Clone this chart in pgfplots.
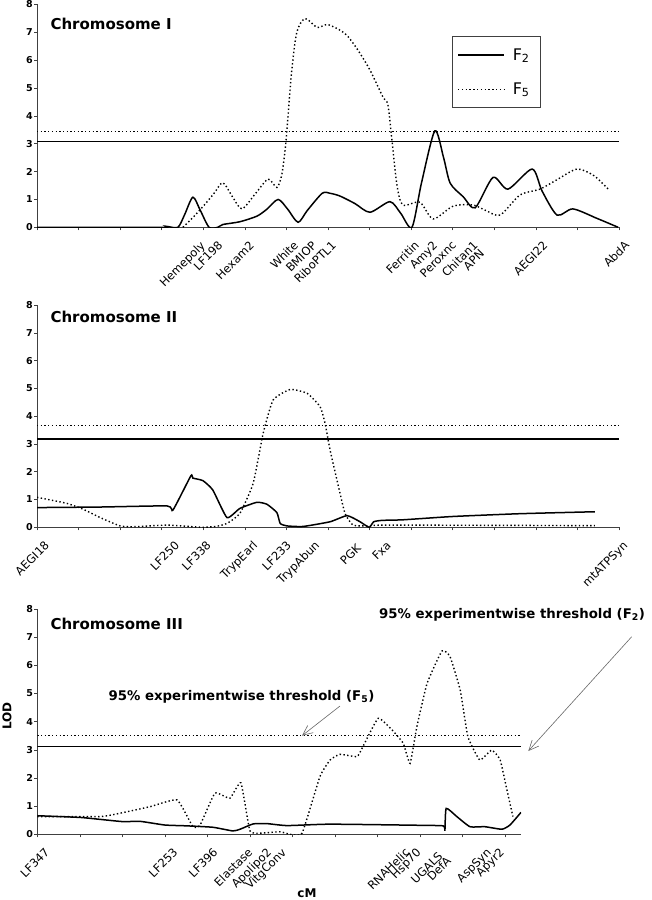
\documentclass[border=0pt]{standalone}
\usepackage{pgfplots}
\pgfplotsset{compat=1.18}
\usepackage{fontspec}
\setmainfont{DejaVu Sans}
\usetikzlibrary{arrows.meta}

\newcommand{\mk}[1]{\makebox[0pt][r]{\smash{#1}}}
\newcommand{\mks}[3]{\makebox[0pt][r]{\smash{\raisebox{-#1pt}{#3}}\hspace{-#2pt}}}

\pgfplotsset{
 chr/.style={
  scale only axis, anchor=south west,
  xmin=0, ymin=0, ymax=8,
  axis x line*=bottom, axis y line*=left,
  axis line style={black!75, line width=0.8pt},
  xticklabels={},
  ytick={0,1,...,8},
  tick align=outside, major tick length=3pt,
  tick style={black!75, line width=0.6pt},
  /pgf/number format/assume math mode=true,
  yticklabel style={font=\bfseries\fontsize{9.5}{10}\selectfont, inner sep=1pt},
  extra x tick style={major tick length=0pt,
     tick label style={yshift=-19pt, rotate=45, anchor=center, inner sep=0pt,
       font=\fontsize{11.5}{12}\selectfont}},
 },
 f2/.style={black, line width=1.5pt, smooth, tension=0.45},
 f5/.style={black, line width=1.4pt, dash pattern=on 1.4pt off 2.4pt, smooth, tension=0.45},
 thr2/.style={black, line width=1.2pt, forget plot},
 thr5/.style={black, line width=1.2pt, dash pattern=on 1.3pt off 2.4pt, forget plot},
}

\begin{document}
\begin{tikzpicture}
\useasboundingbox (0,0) rectangle (651pt,-900pt);

% ---------------- Chromosome I ----------------
\begin{axis}[chr, at={(37pt,-227.3pt)}, width=582pt, height=223pt, xmax=140,
  xtick={0,10,...,140},
  extra x ticks={40.6,44.8,52.4,63.0,67.4,72.1,92.1,96.5,101.0,106.2,105.7,123.0,140},
  extra x tick labels={\mk{Hemepoly},\mk{LF198},\mk{Hexam2},\mk{White},\mk{BMIOP},\mk{RiboPTL1},\mk{Ferritin},\mk{Amy2},\mk{Peroxnc},\mk{Chitan1},\mks{12}{0}{APN},\mk{AEGI22},\mks{7.8}{7.8}{AbdA}},
  legend style={at={(axis cs:99.8,6.86)}, anchor=north west, draw=black!75, line width=0.8pt,
     font=\fontsize{16}{18}\selectfont, inner xsep=5pt, inner ysep=10pt, row sep=17pt,
     cells={anchor=west}},
  legend image code/.code={\draw[#1] (0pt,0pt) -- (46pt,0pt);},
]
\addplot[thr2] coordinates {(0,3.09) (140,3.09)};
\addplot[thr5] coordinates {(0,3.45) (140,3.45)};
\addplot[f2] coordinates {
(0,0) (29.6,0) (31.3,0.03) (33.9,0) (35.5,0.45) (37.5,1.08) (39.3,0.6) (41.4,0) (43.5,0)
(44.7,0.1) (48.8,0.2) (52.9,0.4) (55.3,0.65) (58.0,1.0) (60.3,0.65) (62.8,0.18) (65,0.6)
(68.6,1.22) (70.5,1.22) (72.9,1.12) (76.5,0.85) (80.1,0.54) (84.9,0.92) (87.5,0.5) (90.2,0)
(92.5,1.6) (95.7,3.46) (97.8,2.5) (99.4,1.58) (102.5,1.1) (105.4,0.7) (109.7,1.79) (113.3,1.37)
(119.1,2.09) (121.5,1.3) (125.1,0.44) (128.9,0.66) (134.7,0.32) (139.8,0)};
\addlegendentry{\hspace*{6pt}F\textsubscript{2}\hspace*{4pt}}
\addplot[f5] coordinates {
(35.1,0) (37.5,0.35) (39.9,0.74) (42.5,1.2) (44.7,1.6) (47,1.1) (49.3,0.66) (52.5,1.2)
(55.6,1.73) (57.7,1.43) (58.9,1.9) (59.9,3.1) (61.2,5.5) (62.5,7.0) (64.5,7.49) (67.4,7.17)
(70.0,7.27) (74.1,6.95) (77,6.4) (80.1,5.64) (83.2,4.68) (84.4,4.4) (85.4,3.1) (86.6,1.5)
(88.0,0.8) (92.1,0.9) (95.3,0.3) (100.1,0.76) (104.9,0.8) (108,0.6) (111.4,0.44) (116.2,1.16)
(121.0,1.37) (125,1.7) (129.9,2.09) (134,1.85) (137.4,1.37)};
\addlegendentry{\hspace*{6pt}F\textsubscript{5}\hspace*{4pt}}
\end{axis}

% ---------------- Chromosome II ----------------
\begin{axis}[chr, at={(37pt,-527.3pt)}, width=582pt, height=222.3pt, xmax=140,
  xtick={0,10,...,140},
  extra x ticks={3.1,34.4,42.0,53.2,61.3,68.1,77.4,85.3,140},
  extra x tick labels={\mk{AEGI18},\mk{LF250},\mk{LF338},\mk{TrypEarl},\mk{LF233},\mk{TrypAbun},\mks{4.2}{0}{PGK},\mk{Fxa},\mks{6.6}{6.6}{mtATPSyn}},
]
\addplot[thr2] coordinates {(0,3.18) (140,3.18)};
\addplot[thr5] coordinates {(0,3.65) (140,3.65)};
\addplot[f2, tension=0.3] coordinates {
(0,0.71) (15.2,0.73) (31.3,0.77) (32.7,0.62) (37.0,1.85) (37.5,1.77) (39.9,1.68) (42.3,1.34)
(45.7,0.35) (48.8,0.68) (52.9,0.9) (55.3,0.83) (57.7,0.53) (58.5,0.14) (60.1,0.05) (64.0,0.03)
(70.5,0.2) (74.6,0.42) (77.7,0.2) (79.9,0) (81,0.2) (83.0,0.25) (88.0,0.27) (100.1,0.39)
(116.2,0.49) (134.2,0.56)};
\addplot[f5, tension=0.3] coordinates {
(0,1.08) (7.2,0.86) (11.1,0.65) (15.2,0.35) (20.0,0.05) (23.1,0.02) (31.3,0.08) (37.5,0.02)
(39.9,0) (43,0.03) (45.7,0.14) (48.8,0.5) (52.0,1.58) (54.4,3.38) (56.8,4.58) (60.9,4.96)
(65.0,4.82) (68.1,4.34) (69.3,3.74) (70.5,2.78) (72.9,1.22) (74.1,0.5) (76.0,0.08) (80.1,0.05)
(84.2,0.08) (134.2,0.06)};
\end{axis}

% ---------------- Chromosome III ----------------
\begin{axis}[chr, at={(37.3pt,-834.3pt)}, width=483.7pt, height=225.3pt, xmax=113.8,
  xtick={0,10,...,110},
  extra x ticks={3.0,33.2,42.6,50.8,55.2,58.7,87.7,90.4,94.7,95.5,106.9,110.0},
  extra x tick labels={\mk{LF347},\mk{LF253},\mk{LF396},\mk{Elastase},\mk{Apolipo2},\mk{VitgConv},\mk{RNAHelic},\mk{Hsp70},\mks{5}{0}{UGALS},\mks{12}{0}{DefA},\mk{AspSyn},\mk{Apyr2}},
]
\addplot[thr2] coordinates {(0,3.11) (113.8,3.11)};
\addplot[thr5] coordinates {(0,3.5) (113.8,3.5)};
\addplot[f2, tension=0.3] coordinates {
(0,0.66) (10,0.6) (14.8,0.53) (20.2,0.45) (24.2,0.46) (30,0.33) (35.2,0.3) (41.3,0.25)
(46,0.12) (47.7,0.18) (50.8,0.37) (54,0.38) (58.8,0.31) (68.9,0.36) (90,0.32) (95.5,0.3)
(95.9,0.15) (96.2,0.92) (98.7,0.63) (101.8,0.27) (105.3,0.27) (109.3,0.18) (111.2,0.33) (113.8,0.78)};
\addplot[f5, tension=0.25] coordinates {
(0,0.63) (14.8,0.63) (19.5,0.75) (26.5,0.98) (32.9,1.22) (36.6,0.27) (38.3,0.33) (41.8,1.46)
(45.3,1.28) (47.9,1.83) (50,0.13) (52.4,0.04) (57.1,0.09) (59.5,0) (62.3,0.04) (66.5,2.05)
(68.9,2.64) (71.2,2.84) (75.2,2.76) (76.6,3.11) (80.2,4.12) (83.5,3.7) (86.1,3.23) (87.7,2.52)
(89.3,3.82) (91.7,5.36) (95.2,6.51) (97.1,6.31) (99.5,5.12) (101.3,3.47) (104.1,2.64) (106.9,2.99)
(108.9,2.64) (110.5,1.57) (111.9,0.63)};
\end{axis}

% titles and annotations
\node[anchor=west, font=\bfseries\fontsize{15}{18}\selectfont] at (47pt,-24pt) {Chromosome I};
\node[anchor=west, font=\bfseries\fontsize{15}{18}\selectfont] at (47pt,-317pt) {Chromosome II};
\node[anchor=west, font=\bfseries\fontsize{15}{18}\selectfont] at (47pt,-624pt) {Chromosome III};
\node[rotate=90, font=\bfseries\fontsize{12}{14}\selectfont] at (7pt,-716pt) {LOD};
\node[font=\bfseries\fontsize{12}{14}\selectfont] at (307pt,-893pt) {cM};
\node[inner sep=0pt, font=\bfseries\fontsize{13.3}{16}\selectfont] at (241.5pt,-697pt) {95\% experimentwise threshold (F\textsubscript{5})};
\node[inner sep=0pt, anchor=west, font=\bfseries\fontsize{13.3}{16}\selectfont] at (379pt,-615pt) {95\% experimentwise threshold (F\textsubscript{2})};
\draw[black!60, line width=0.6pt, -{Straight Barb[length=10pt,width=9pt]}] (340pt,-706pt) -- (302pt,-735.7pt);
\draw[black!60, line width=0.6pt, -{Straight Barb[length=10pt,width=9pt]}] (631.7pt,-636.7pt) -- (528.3pt,-751pt);
\end{tikzpicture}
\end{document}
